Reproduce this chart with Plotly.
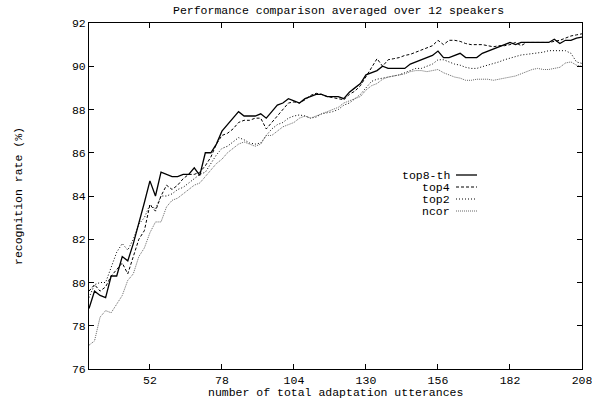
import plotly.graph_objects as go

utterances = list(range(30, 209, 2))

top8_th = [78.8, 79.6, 79.4, 79.3, 80.3, 80.3, 81.2, 81.0, 81.8, 82.7,
           83.7, 84.7, 84.0, 85.1, 85.0, 84.9, 84.9, 85.0, 85.0, 85.3,
           84.95, 86.0, 86.0, 86.4, 87.0, 87.3, 87.6, 87.9, 87.7, 87.7,
           87.7, 87.8, 87.6, 87.9, 88.2, 88.3, 88.5, 88.4, 88.3, 88.5,
           88.6, 88.7, 88.7, 88.6, 88.6, 88.6, 88.5, 88.8, 89.0, 89.2,
           89.6, 89.7, 89.8, 90.0, 89.9, 89.9, 89.9, 89.9, 90.1, 90.2,
           90.3, 90.4, 90.5, 90.7, 90.4, 90.4, 90.5, 90.6, 90.4, 90.4,
           90.4, 90.6, 90.7, 90.8, 90.9, 91.0, 91.1, 91.0, 91.1, 91.1,
           91.1, 91.1, 91.1, 91.1, 91.25, 91.05, 91.2, 91.2, 91.3, 91.35]

top4 = [79.6, 79.9, 79.6, 79.8, 80.3, 80.6, 80.9, 80.4, 81.2, 82.0,
        82.4, 83.6, 83.3, 84.0, 84.5, 84.3, 84.5, 84.8, 85.0, 85.0,
        85.1, 85.4, 85.8, 86.4, 86.8, 86.9, 87.1, 87.4, 87.5, 87.5,
        87.6, 87.6, 87.1, 87.4, 87.7, 88.0, 88.3, 88.35, 88.3, 88.45,
        88.65, 88.75, 88.7, 88.6, 88.55, 88.5, 88.45, 88.7, 88.85, 89.1,
        89.5, 89.9, 90.35, 90.0, 90.3, 90.35, 90.4, 90.5, 90.55, 90.65,
        90.75, 90.85, 90.95, 91.2, 91.0, 91.2, 91.2, 91.15, 91.05, 91.0,
        91.0, 91.0, 90.95, 90.9, 90.95, 90.95, 91.0, 91.1, 90.95, 91.1,
        91.1, 91.1, 91.1, 91.1, 91.15, 91.2, 91.3, 91.4, 91.45, 91.5]

top2 = [79.3, 79.9, 80.0, 80.0, 80.7, 81.4, 81.8, 81.5, 82.0, 82.7,
        83.0, 83.6, 83.4, 84.0, 84.0, 84.1, 84.3, 84.4, 84.6, 84.8,
        85.0, 85.1, 85.5, 85.9, 86.2, 86.3, 86.5, 86.7, 86.6, 86.45,
        86.4, 86.45, 86.8, 87.1, 87.3, 87.4, 87.6, 87.7, 87.75, 87.7,
        87.6, 87.65, 87.8, 87.85, 87.9, 88.0, 88.2, 88.3, 88.5, 88.7,
        89.0, 89.3, 89.4, 89.45, 89.5, 89.55, 89.6, 89.7, 89.8, 89.9,
        89.9, 90.0, 90.1, 90.3, 90.3, 90.2, 90.1, 90.05, 89.95, 89.9,
        89.9, 89.98, 90.05, 90.15, 90.2, 90.3, 90.37, 90.45, 90.52, 90.55,
        90.58, 90.6, 90.65, 90.72, 90.72, 90.7, 90.72, 90.6, 90.2, 90.13]

ncor = [77.1, 77.3, 78.4, 78.7, 78.6, 79.0, 79.4, 80.1, 80.4, 81.2,
        81.6, 82.3, 82.8, 82.8, 83.5, 83.8, 83.9, 84.1, 84.3, 84.5,
        84.6, 84.9, 85.2, 85.5, 85.7, 86.0, 86.2, 86.4, 86.5, 86.4,
        86.3, 86.4, 86.8, 86.8, 87.0, 87.2, 87.3, 87.4, 87.6, 87.7,
        87.6, 87.7, 87.8, 87.9, 88.0, 88.1, 88.3, 88.4, 88.5, 88.6,
        88.9, 89.1, 89.2, 89.4, 89.5, 89.55, 89.6, 89.65, 89.75, 89.8,
        89.8, 89.75, 89.8, 89.85, 89.7, 89.6, 89.5, 89.45, 89.35, 89.35,
        89.4, 89.4, 89.4, 89.35, 89.4, 89.45, 89.5, 89.55, 89.65, 89.75,
        89.85, 89.9, 89.85, 89.85, 89.9, 89.95, 90.15, 90.2, 90.05, 90.0]

x_ticks = [52, 78, 104, 130, 156, 182, 208]
y_ticks = [76, 78, 80, 82, 84, 86, 88, 90, 92]

series = [
    ("top8-th", top8_th, dict(color="black", width=1.3, dash="solid")),
    ("top4", top4, dict(color="black", width=1, dash="3px,2px")),
    ("top2", top2, dict(color="black", width=1, dash="1px,2px")),
    ("ncor", ncor, dict(color="#666666", width=1, dash="1px,1px")),
]

FONT = "Liberation Mono, Courier New, monospace"
FS = 11.5
fig = go.Figure()
for name, vals, ln in series:
    fig.add_trace(go.Scatter(x=utterances, y=vals, mode="lines", name=name,
                             line=ln, showlegend=False, hoverinfo="skip"))

W, H = 592, 400
L, R, T, B = 89, 10, 23, 31
pw, ph = W - L - R, H - T - B

def px_x(p):
    return (p - L) / pw

def px_y(p):
    return (H - B - p) / ph

annotations = []
shapes = []
legend_rows = [175, 187, 199, 211]
for (name, vals, ln), ry in zip(series, legend_rows):
    annotations.append(dict(text=name, x=px_x(452), y=px_y(ry), xref="paper", yref="paper",
                            xanchor="right", yanchor="middle", showarrow=False,
                            font=dict(family=FONT, size=FS, color="black")))
    shapes.append(dict(type="line", xref="paper", yref="paper",
                       x0=px_x(456), x1=px_x(477), y0=px_y(ry), y1=px_y(ry),
                       line=ln))

annotations.append(dict(text="recognition rate (%)", x=px_x(18), y=0.5, xref="paper", yref="paper",
                        textangle=-90, showarrow=False, xanchor="center", yanchor="middle",
                        font=dict(family=FONT, size=FS, color="black")))
annotations.append(dict(text="number of total adaptation utterances", x=0.5, y=px_y(392.5),
                        xref="paper", yref="paper", showarrow=False, xanchor="center", yanchor="middle",
                        font=dict(family=FONT, size=FS, color="black")))
annotations.append(dict(text="Performance comparison averaged over 12 speakers", x=px_x(338.5), y=px_y(11),
                        xref="paper", yref="paper", showarrow=False, xanchor="center", yanchor="middle",
                        font=dict(family=FONT, size=FS, color="black")))

fig.update_layout(
    width=W, height=H,
    margin=dict(l=L, r=R, t=T, b=B, autoexpand=False),
    paper_bgcolor="white", plot_bgcolor="white",
    font=dict(family=FONT, size=FS, color="black"),
    annotations=annotations, shapes=shapes,
    showlegend=False,
)
fig.update_xaxes(range=[30, 208], tickvals=x_ticks, ticks="inside", ticklen=5,
                 showline=True, linecolor="black", linewidth=1, mirror="ticks",
                 showgrid=False, zeroline=False, tickcolor="black", automargin=False,
                 ticklabeloverflow="allow",
                 tickfont=dict(family=FONT, size=FS, color="black"))
fig.update_yaxes(range=[76, 92], tickvals=y_ticks, ticks="inside", ticklen=5,
                 showline=True, linecolor="black", linewidth=1, mirror="ticks",
                 showgrid=False, zeroline=False, tickcolor="black", automargin=False,
                 ticklabeloverflow="allow",
                 tickfont=dict(family=FONT, size=FS, color="black"))

fig.write_html("out.html", config={"displayModeBar": False},
               post_script="document.body.style.margin='0';document.body.style.overflow='hidden';")
